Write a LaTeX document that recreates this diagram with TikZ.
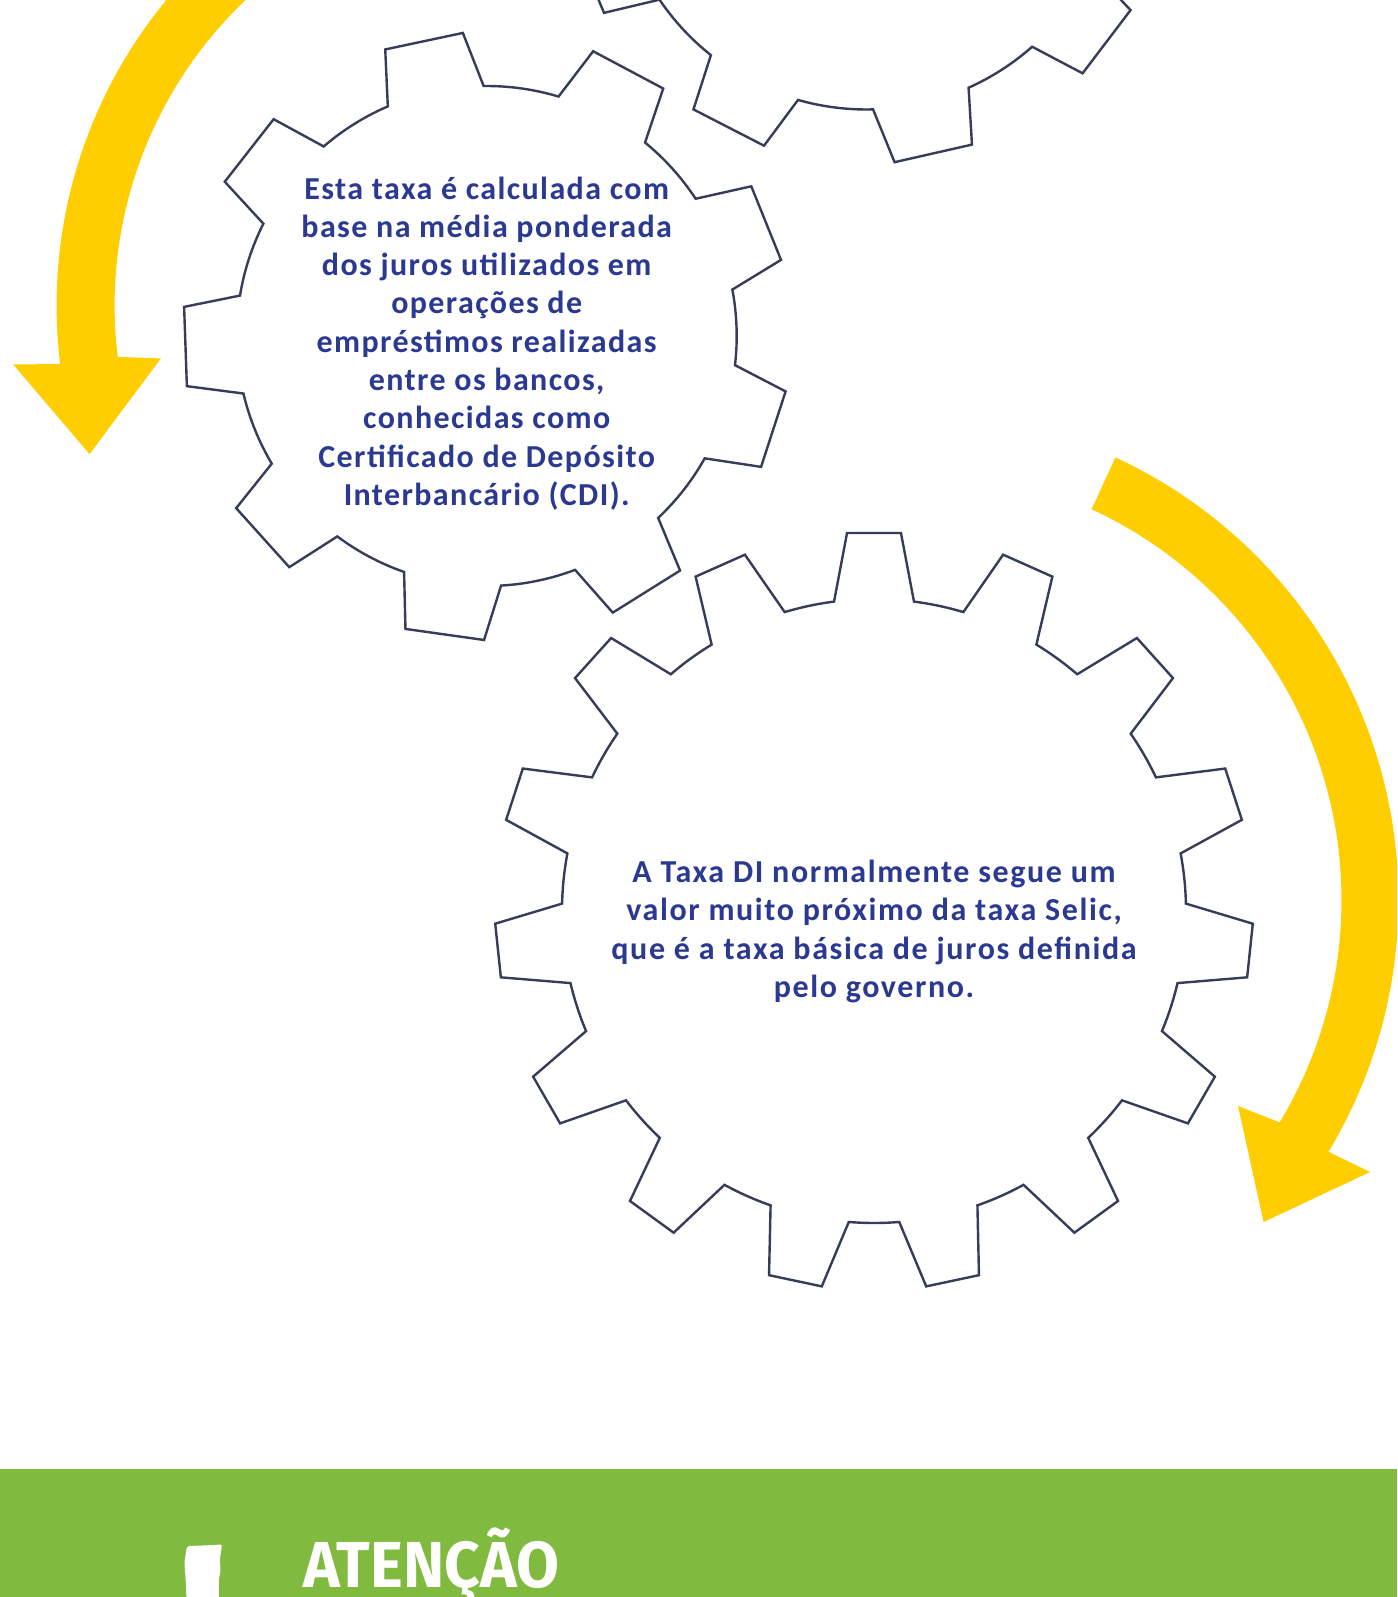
\documentclass[tikz,border=0pt]{standalone}
\usepackage{fontspec}
\usetikzlibrary{calc}
\setmainfont{Carlito}
\newfontfamily\attfont{Fira Sans}
\definecolor{arrowyellow}{RGB}{255,206,0}
\definecolor{bandgreen}{RGB}{128,186,62}
\definecolor{gearstroke}{RGB}{55,61,88}
\definecolor{textblue}{RGB}{43,57,144}
\tikzset{
  gearline/.style={draw=gearstroke,fill=white,line width=2.4pt,line join=miter},
  txt/.style={text=textblue,align=center,inner sep=0pt,font=\fontsize{32}{38.3}\selectfont\bfseries\addfontfeature{LetterSpace=4.4}},
  txtwide/.style={text=textblue,align=center,inner sep=0pt,font=\fontsize{32}{38.3}\selectfont\bfseries\addfontfeature{LetterSpace=5}},
}
\newcommand\drawgear[8]{%
  \begin{scope}[shift={(#1,#2)}]
    \pgfmathsetmacro\gearpitch{360/#3}
    \filldraw[gearline] ({#8-#7}:#5)
    \foreach \gi in {1,...,#3}{
      -- ({#8+(\gi-1)*\gearpitch-#6}:#4)
      -- ({#8+(\gi-1)*\gearpitch+#6}:#4)
      -- ({#8+(\gi-1)*\gearpitch+#7}:#5)
      arc[start angle={#8+(\gi-1)*\gearpitch+#7}, end angle={#8+\gi*\gearpitch-#7}, radius=#5]
    } -- cycle;
  \end{scope}}
\begin{document}
\begin{tikzpicture}[x=1pt,y=-1pt]
\useasboundingbox (0,0) rectangle (1397,1597);
\clip (0,0) rectangle (1397,1597);
\fill[white] (0,0) rectangle (1397,1597);
% left yellow arrow
\fill[arrowyellow] ($(536.6,305.5)+(230:480)$) arc[start angle=230,end angle=173,radius=480]
  -- (13.2,364.5) -- (89.6,454.1) -- (160.9,358.4)
  -- ($(536.6,305.5)+(173:422)$) arc[start angle=173,end angle=230,radius=422] -- cycle;
% right yellow arrow
\fill[arrowyellow] ($(911,900)+(-65.2:487.5)$) arc[start angle=-65.2,end angle=31.1,radius=487.5]
  -- (1370,1172) -- (1263.6,1222) -- (1238,1106)
  -- ($(911,900)+(31.1:430.5)$) arc[start angle=31.1,end angle=-65.2,radius=430.5] -- cycle;
% gears
\drawgear{866.5}{-140.5}{9}{304}{250}{7.5}{11.3}{77.2}
\drawgear{486.7}{336}{9}{304}{250}{7.5}{11.3}{-102}
\drawgear{874}{911}{15}{379}{312}{4.08}{7.36}{-90}
% texts (base anchor = baseline of last line)
\node[txt,anchor=base] (t1) at (486.7,505.4) {Esta taxa é calculada com\\base na média ponderada\\dos juros utilizados em\\operações de\\empréstimos realizadas\\entre os bancos,\\conhecidas como\\Certificado de Depósito\\Interbancário (CDI).};
\node[txtwide,anchor=base] (t2) at (874,997.5) {A Taxa DI normalmente segue um\\valor muito próximo da taxa Selic,\\que é a taxa básica de juros definida\\pelo governo.};
% green band
\fill[bandgreen] (0,1469) rectangle (1397,1597);
\fill[white,rounded corners=2pt] (187,1546) -- (203,1545.5) -- (222,1544.5) -- (219.8,1560) -- (220.6,1570) -- (218.8,1580) -- (219,1600) -- (186.5,1600) -- (185.7,1580) -- (184.4,1562) -- cycle;
\node[anchor=base west,inner sep=0pt,text=white,font=\attfont\bfseries\fontsize{65}{65}\selectfont] (att) at (303,1587) {\scalebox{0.958}[1]{ATENÇÃO}};
\end{tikzpicture}
\end{document}
